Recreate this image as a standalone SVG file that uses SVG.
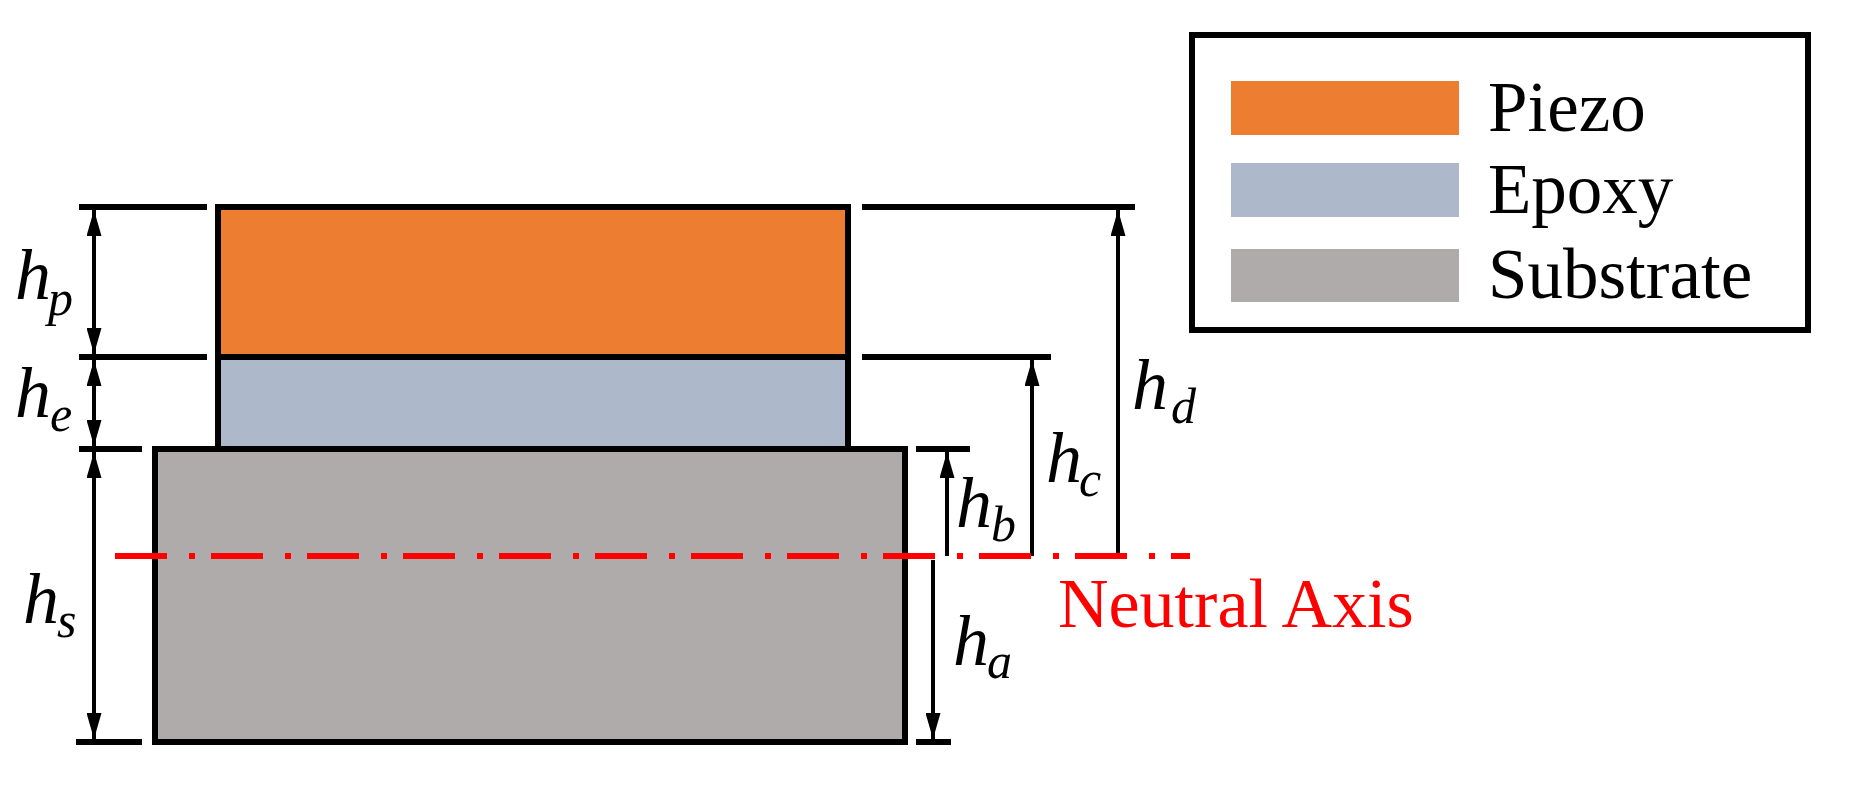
<svg xmlns="http://www.w3.org/2000/svg" width="1852" height="789" viewBox="0 0 1852 789">
<style>
.blk{stroke:#000;stroke-width:6}
.tick{stroke:#000;stroke-width:6}
.dim{stroke:#000;stroke-width:4;fill:none}
.m{font-family:'Liberation Serif','Times New Roman','DejaVu Serif',serif;font-style:italic;fill:#000}
.h{font-size:72px}
.sub{font-size:50px}
.leg{font-family:'Liberation Serif','Times New Roman','DejaVu Serif',serif;font-size:71px;fill:#000}
.na{font-family:'Liberation Serif','Times New Roman','DejaVu Serif',serif;font-size:70px;fill:#f00}
</style>
<defs>
<marker id="ar" viewBox="0 0 10 10" refX="10" refY="5" markerWidth="26" markerHeight="15" markerUnits="userSpaceOnUse" orient="auto-start-reverse" preserveAspectRatio="none"><path d="M0,0L10,5L0,10z" fill="#000"/></marker>
</defs>
<rect width="1852" height="789" fill="#fff"/>
<g id="substrate"><rect x="155" y="449" width="750" height="293" fill="#afabab" class="blk"/></g>
<g id="epoxy"><rect x="218" y="357" width="630" height="92" fill="#adb9ca" class="blk"/></g>
<g id="piezo"><rect x="218" y="207" width="630" height="150" fill="#ed7d31" class="blk"/></g>
<g id="connectors">
<line x1="79" y1="207" x2="207" y2="207" class="tick"/>
<line x1="79" y1="357" x2="207" y2="357" class="tick"/>
<line x1="79" y1="449" x2="142" y2="449" class="tick"/>
<line x1="76" y1="742" x2="142" y2="742" class="tick"/>
<line x1="862" y1="207" x2="1135" y2="207" class="tick"/>
<line x1="862" y1="357" x2="1051" y2="357" class="tick"/>
<line x1="916" y1="449" x2="970" y2="449" class="tick"/>
<line x1="916" y1="742" x2="951" y2="742" class="tick"/>
<line x1="94" y1="210" x2="94" y2="354" class="dim" marker-start="url(#ar)" marker-end="url(#ar)"/>
<line x1="94" y1="360" x2="94" y2="446" class="dim" marker-start="url(#ar)" marker-end="url(#ar)"/>
<line x1="94" y1="452" x2="94" y2="739" class="dim" marker-start="url(#ar)" marker-end="url(#ar)"/>
<line x1="947" y1="556" x2="947" y2="452" class="dim" marker-end="url(#ar)"/>
<line x1="1032" y1="556" x2="1032" y2="360" class="dim" marker-end="url(#ar)"/>
<line x1="1118" y1="556" x2="1118" y2="210" class="dim" marker-end="url(#ar)"/>
<line x1="933" y1="560" x2="933" y2="739" class="dim" marker-end="url(#ar)"/>
<line x1="115" y1="556" x2="1190" y2="556" stroke="#f00" stroke-width="6" stroke-dasharray="52 22 6 16"/>
</g>
<g id="labels">
<text x="15" y="299" class="m h">h</text><text x="48" y="315" class="m sub">p</text>
<text x="15" y="417" class="m h">h</text><text x="50" y="431" class="m sub">e</text>
<text x="23" y="623" class="m h">h</text><text x="57" y="637" class="m sub">s</text>
<text x="956" y="527" class="m h">h</text><text x="991" y="541" class="m sub">b</text>
<text x="1046" y="482" class="m h">h</text><text x="1079" y="496" class="m sub">c</text>
<text x="1132" y="409" class="m h">h</text><text x="1171" y="423" class="m sub">d</text>
<text x="953" y="665" class="m h">h</text><text x="987" y="678" class="m sub">a</text>
<text x="1058" y="627" class="na">Neutral Axis</text>
</g>
<g id="legend">
<rect x="1192" y="35" width="616" height="295" fill="none" stroke="#000" stroke-width="6"/>
<rect x="1231" y="81" width="228" height="54" fill="#ed7d31"/>
<rect x="1231" y="163" width="228" height="54" fill="#adb9ca"/>
<rect x="1231" y="249" width="228" height="53" fill="#afabab"/>
<text x="1488" y="131" class="leg">Piezo</text>
<text x="1488" y="213" class="leg">Epoxy</text>
<text x="1488" y="298" class="leg">Substrate</text>
</g>
</svg>
